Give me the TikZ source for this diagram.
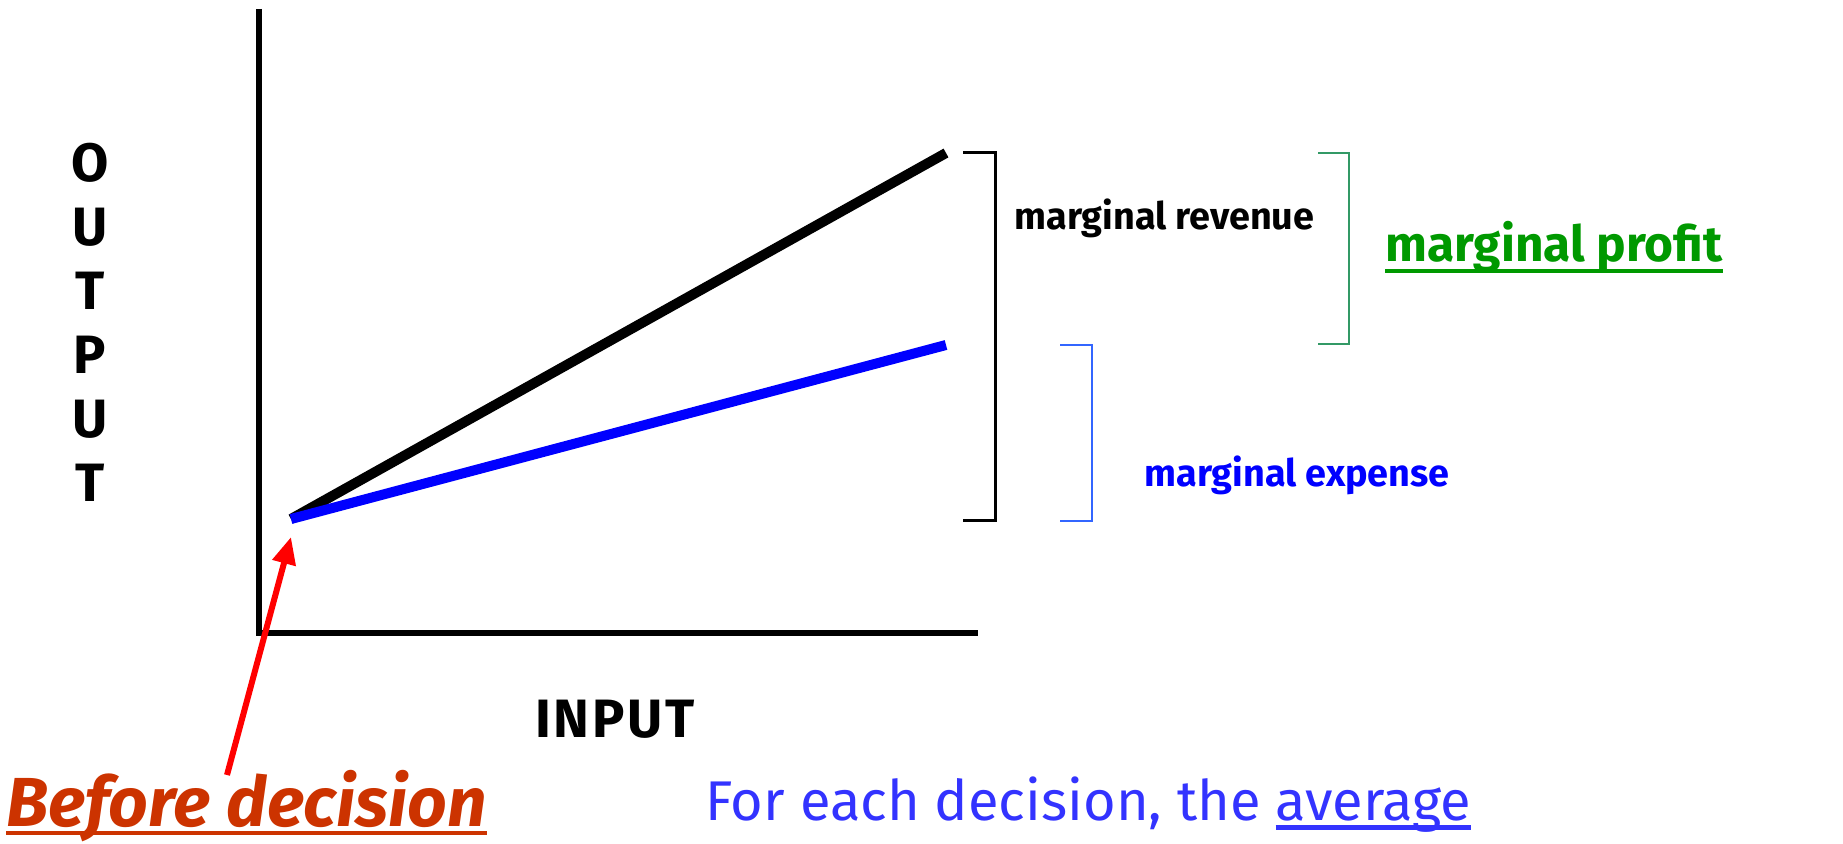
\documentclass[tikz,border=0pt]{standalone}
\usepackage{fontspec}
\setmainfont{Fira Sans}
\usetikzlibrary{arrows.meta}
\definecolor{mpgreen}{HTML}{009900}
\definecolor{brgreen}{HTML}{339966}
\definecolor{brblue}{HTML}{3366FF}
\definecolor{lineblue}{HTML}{0000FF}
\definecolor{decred}{HTML}{CC3300}
\definecolor{notblue}{HTML}{3333FF}
\newcommand\myul[3]{\setbox0\hbox{#3}\rlap{\rule[#1]{\wd0}{#2}}\box0}
\begin{document}
\begin{tikzpicture}[x=0.5pt,y=-0.5pt,
  lbl/.style={inner sep=0pt, anchor=base west},
  axis/.style={line width=3pt, black, line join=miter},
  curve/.style={line width=5pt, line cap=butt},
  bracket/.style={line width=1.2pt}]
\useasboundingbox (0,0) rectangle (1843,844);
% axes
\coordinate (ytop) at (259,9);
\coordinate (orig) at (259,633);
\coordinate (xend) at (978,633);
\draw[axis] (ytop) -- (orig) -- (xend);
% lines
\coordinate (s) at (291,519);
\coordinate (rev) at (946,153);
\coordinate (exp) at (946,345);
\draw[curve, black] (s) -- (rev);
\draw[curve, lineblue] (s) -- (exp);
% brackets
\draw[bracket, black, line width=1.5pt] (963,153) -- (995,153) -- (995,521) -- (963,521);
\draw[bracket, brgreen] (1318,153) -- (1349,153) -- (1349,344) -- (1318,344);
\draw[bracket, brblue] (1060,345) -- (1092,345) -- (1092,521) -- (1060,521);
% labels
\node[inner sep=0pt, align=center, font=\bfseries\fontsize{27}{32}\selectfont] (out) at (90,322) {O\\U\\T\\P\\U\\T};
\node[lbl, font=\bfseries\fontsize{27}{30}\selectfont\addfontfeature{LetterSpace=5}] (inp) at (535,737) {INPUT};
\node[lbl, font=\bfseries\fontsize{18.9}{22}\selectfont] (mr) at (1014,230) {marginal revenue};
\node[lbl, font=\bfseries\fontsize{18.9}{22}\selectfont, text=lineblue] (me) at (1144,487) {marginal expense};
\node[lbl, font=\bfseries\fontsize{24.8}{28}\selectfont, text=mpgreen] (mp) at (1385,262) {\myul{-5.3pt}{1.7pt}{marginal profit}};
\node[lbl, font=\bfseries\itshape\fontsize{34.7}{40}\selectfont, text=decred] (bd) at (6,826) {\myul{-4.5pt}{2pt}{Before decision}};
\node[lbl, font=\fontsize{28}{34}\selectfont, text=notblue] (fe) at (705,820) {For each decision, the \myul{-4.75pt}{2.5pt}{average}};
% arrow
\coordinate (tail) at (227,775);
\coordinate (tip) at (291,537);
\draw[red, line width=3pt, -{Triangle[length=13.5pt,width=11.5pt]}] (tail) -- (tip);
\end{tikzpicture}
\end{document}
